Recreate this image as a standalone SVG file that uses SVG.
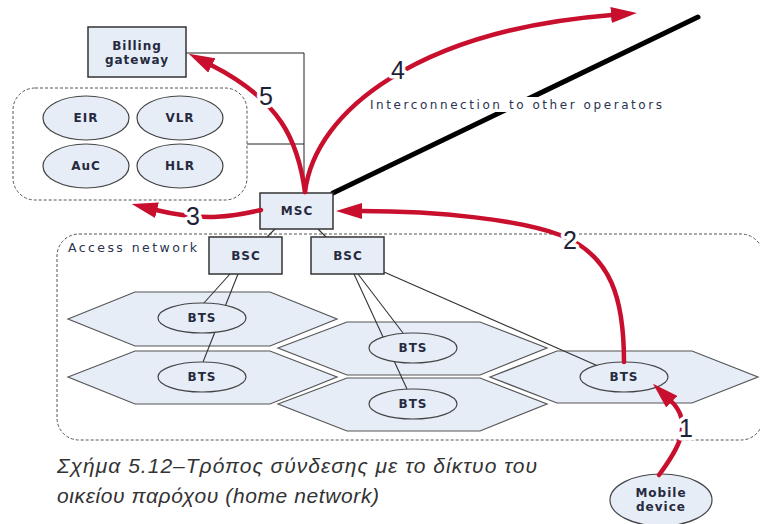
<svg xmlns="http://www.w3.org/2000/svg" width="760" height="524" viewBox="0 0 760 524">
<defs>
<style>
.box{fill:#e6edf7;stroke:#333;stroke-width:1.5}
.ell{fill:#e6edf7;stroke:#444;stroke-width:1.2}
.hex{fill:#e6edf7;stroke:#555;stroke-width:1.2}
.dash{fill:none;stroke:#555;stroke-width:1;stroke-dasharray:3,2}
.thin{fill:none;stroke:#222;stroke-width:1}
.link{fill:none;stroke:#333;stroke-width:1.1}
.red{fill:none;stroke:#c8102e;stroke-width:4.5;stroke-linecap:round}
.lbl{font-family:"DejaVu Sans",Verdana,sans-serif;font-size:12px;font-weight:bold;fill:#262a3e;text-anchor:middle;letter-spacing:1px}
.num{font-family:"Liberation Sans",Arial,sans-serif;font-size:25px;fill:#1e2235;text-anchor:middle;stroke:#fff;stroke-width:7;paint-order:stroke;stroke-linejoin:round}
.cap{font-family:"Liberation Sans","Noto Sans",sans-serif;font-style:italic;font-size:21px;fill:#333}
</style>
<marker id="ah" viewBox="0 0 26 16" refX="1" refY="8" markerWidth="26" markerHeight="16" markerUnits="userSpaceOnUse" orient="auto">
<path d="M0,0 L26,8 L0,16 z" fill="#c8102e"/>
</marker>
</defs>

<g id="access-network">
<rect x="57" y="234" width="706" height="206" rx="22" class="dash"/>
<text x="68" y="252" font-family="DejaVu Sans,Verdana,sans-serif" font-size="12.5" fill="#2a3350" textLength="129">Access network</text>
</g>

<g id="core-group">
<rect x="13" y="88" width="234" height="112" rx="22" class="dash"/>
</g>

<g id="connectors">
<polyline class="thin" points="186,53 304,53 304,193"/>
<line class="thin" x1="247" y1="144" x2="304" y2="144"/>
<line class="link" x1="275" y1="229" x2="267" y2="237"/>
<line class="link" x1="318" y1="229" x2="326" y2="237"/>
<line x1="333" y1="193" x2="698" y2="17" stroke="#000" stroke-width="5" stroke-linecap="round"/>
</g>

<g id="hexagons">
<polygon class="hex" points="68,319 135,292 270,292 337,319 270,346 135,346"/>
<polygon class="hex" points="68,377 135,351 270,351 337,377 270,404 135,404"/>
<polygon class="hex" points="278,348 347,322 480,322 547,348 480,375 347,375"/>
<polygon class="hex" points="278,404 347,378 480,378 547,404 480,431 347,431"/>
<polygon class="hex" points="490,377 557,351 692,351 758,377 692,403 557,403"/>
</g>

<g id="bsc-bts-links">
<line class="link" x1="230" y1="274" x2="203" y2="304"/>
<line class="link" x1="238" y1="274" x2="203" y2="362"/>
<line class="link" x1="358" y1="274" x2="403" y2="333"/>
<line class="link" x1="354" y1="274" x2="407" y2="389"/>
<line class="link" x1="384" y1="272" x2="598" y2="366"/>
</g>

<g id="billing-gateway">
<rect class="box" x="88" y="27" width="98" height="50"/>
<text class="lbl" x="137" y="50">Billing</text>
<text class="lbl" x="137" y="64">gateway</text>
</g>

<g id="eir"><ellipse class="ell" cx="86" cy="118" rx="43" ry="22"/><text class="lbl" x="86" y="122">EIR</text></g>
<g id="vlr"><ellipse class="ell" cx="180" cy="118" rx="43" ry="22"/><text class="lbl" x="180" y="122">VLR</text></g>
<g id="auc"><ellipse class="ell" cx="86" cy="166" rx="43" ry="22"/><text class="lbl" x="86" y="170">AuC</text></g>
<g id="hlr"><ellipse class="ell" cx="180" cy="166" rx="43" ry="22"/><text class="lbl" x="180" y="170">HLR</text></g>

<g id="msc">
<rect class="box" x="260" y="193" width="73" height="36"/>
<text class="lbl" x="297" y="215">MSC</text>
</g>

<g id="bsc1">
<rect class="box" x="209" y="237" width="73" height="37"/>
<text class="lbl" x="246" y="260">BSC</text>
</g>
<g id="bsc2">
<rect class="box" x="311" y="237" width="73" height="37"/>
<text class="lbl" x="348" y="260">BSC</text>
</g>

<g id="bts1"><ellipse class="ell" cx="202" cy="318" rx="44" ry="15"/><text class="lbl" x="202" y="322">BTS</text></g>
<g id="bts2"><ellipse class="ell" cx="202" cy="377" rx="44" ry="15"/><text class="lbl" x="202" y="381">BTS</text></g>
<g id="bts3"><ellipse class="ell" cx="413" cy="348" rx="44" ry="15"/><text class="lbl" x="413" y="352">BTS</text></g>
<g id="bts4"><ellipse class="ell" cx="413" cy="404" rx="44" ry="15"/><text class="lbl" x="413" y="408">BTS</text></g>
<g id="bts5"><ellipse class="ell" cx="624" cy="377" rx="44" ry="15"/><text class="lbl" x="624" y="381">BTS</text></g>

<g id="mobile-device">
<ellipse class="ell" cx="661" cy="500" rx="51" ry="26"/>
<text class="lbl" x="661" y="497" font-size="11.5">Mobile</text>
<text class="lbl" x="661" y="511" font-size="11.5">device</text>
</g>

<g id="interconnection-label">
<rect x="367" y="97" width="298" height="15" fill="#fff"/>
<text x="370" y="109" font-family="DejaVu Sans,Verdana,sans-serif" font-size="12" fill="#2a3350" textLength="292">Interconnection to other operators</text>
</g>

<g id="signal-arrows">
<path class="red" d="M659,475 C676,452 695,424 671,401" marker-end="url(#ah)"/>
<path class="red" d="M624,362 C624,300 612,255 560,235 C520,220 440,211 361,211" marker-end="url(#ah)"/>
<path class="red" d="M261,210 C235,216 205,222 156,210" marker-end="url(#ah)"/>
<path class="red" d="M305,192 C315,110 420,30 612,15" marker-end="url(#ah)"/>
<path class="red" d="M305,192 C298,140 280,100 211,65" marker-end="url(#ah)"/>
<text class="num" x="686" y="437">1</text>
<text class="num" x="570" y="249">2</text>
<text class="num" x="193" y="225">3</text>
<text class="num" x="398" y="79">4</text>
<text class="num" x="266" y="105">5</text>
</g>

<g id="caption">
<text class="cap" x="57" y="473" textLength="480" lengthAdjust="spacing">Σχήμα 5.12–Τρόπος σύνδεσης με το δίκτυο του</text>
<text class="cap" x="57" y="503" textLength="322" lengthAdjust="spacing">οικείου παρόχου  (home network)</text>
</g>
</svg>
